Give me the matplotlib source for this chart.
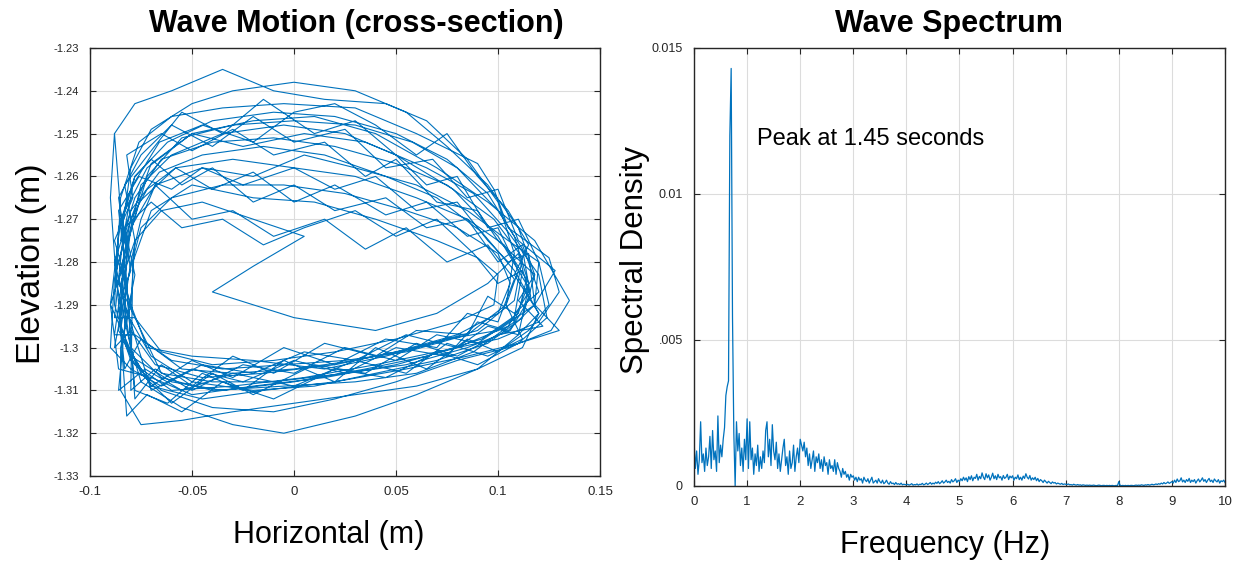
import numpy as np
import matplotlib
matplotlib.use("Agg")
import matplotlib.pyplot as plt

plt.rcParams['font.family'] = ['Liberation Sans', 'DejaVu Sans']

# ---------------- data: orbit (cross-section) ----------------
horizontal_m = [
    -0.085, -0.080, -0.070, -0.050, -0.030, 0.000, 0.030, 0.055, 0.075, 0.095, 0.110, 0.118, 0.112, 0.095, 0.070, 0.040, 0.010, -0.020, -0.050, -0.070, -0.082,
    -0.088, -0.078, -0.065, -0.040, -0.010, 0.020, 0.050, 0.075, 0.098, 0.112, 0.108, 0.090, 0.060, 0.030, 0.000, -0.030, -0.055, -0.075,
    -0.083, -0.086, -0.080, -0.084, -0.078, -0.070, -0.055, -0.040, -0.020, 0.000, 0.020, 0.045, 0.065, 0.085, 0.100, 0.112, 0.120, 0.108, 0.095, 0.085, 0.060, 0.040, 0.015, -0.010, -0.030, -0.050, -0.065, -0.078,
    -0.082, -0.075, -0.060, -0.035, -0.005, 0.025, 0.055, 0.080, 0.100, 0.106, 0.100, 0.080, 0.050, 0.020, -0.015, -0.045, -0.068, -0.080,
    -0.088, -0.082, -0.088, -0.079, -0.082, -0.065, -0.050, -0.030, -0.010, 0.015, 0.035, 0.050, 0.070, 0.090, 0.100, 0.118, 0.110, 0.122, 0.100, 0.080, 0.060, 0.035, 0.010, -0.020, -0.040, -0.060, -0.075,
    -0.090, -0.085, -0.072, -0.050, -0.020, 0.010, 0.040, 0.070, 0.095, 0.118, 0.135, 0.126, 0.105, 0.080, 0.050, 0.020, -0.010, -0.040, -0.065, -0.080,
    -0.085, -0.080, -0.075, -0.068, -0.050, -0.030, -0.010, 0.015, 0.035, 0.055, 0.075, 0.095, 0.108, 0.100, 0.085, 0.070, 0.045, 0.020, -0.005, -0.030, -0.050, -0.070,
    -0.086, -0.083, -0.075, -0.060, -0.035, -0.005, 0.025, 0.050, 0.078, 0.100, 0.115, 0.110, 0.090, 0.060, 0.030, -0.005, -0.030, -0.055, -0.075,
    -0.080, -0.085, -0.078, -0.083, -0.070, -0.055, -0.035, -0.015, 0.010, 0.030, 0.050, 0.065, 0.080, 0.095, 0.110, 0.120, 0.125, 0.115, 0.100, 0.085, 0.065, 0.040, 0.020, -0.005, -0.025, -0.045, -0.062, -0.078,
    -0.088, -0.078, -0.060, -0.035, -0.010, 0.015, 0.045, 0.065, 0.085, 0.100, 0.108, 0.104, 0.085, 0.055, 0.025, -0.005, -0.035, -0.060, -0.078,
    -0.088, -0.083, -0.086, -0.076, -0.060, -0.045, -0.025, 0.000, 0.020, 0.040, 0.060, 0.080, 0.095, 0.105, 0.115, 0.118, 0.105, 0.090, 0.075, 0.050, 0.025, 0.000, -0.025, -0.050, -0.070,
    -0.084, -0.080, -0.068, -0.045, -0.020, 0.005, 0.030, 0.060, 0.085, 0.105, 0.120, 0.118, 0.100, 0.075, 0.045, 0.015, -0.020, -0.050, -0.072,
    -0.080, -0.078, -0.065, -0.045, -0.020, 0.005, -0.020, -0.040, 0.000, 0.040, 0.070, 0.095, 0.110, 0.115, 0.105, 0.080, 0.050, 0.015, -0.020, -0.050, -0.070,
    -0.086, -0.090, -0.082, -0.086, -0.075, -0.060, -0.040, -0.020, 0.000, 0.025, 0.045, 0.068, 0.085, 0.100, 0.110, 0.128, 0.118, 0.130, 0.110, 0.090, 0.070, 0.045, 0.020, -0.010, -0.035, -0.055, -0.072, -0.082,
    -0.087, -0.085, -0.076, -0.060, -0.035, -0.005, 0.030, 0.060, 0.090, 0.098, 0.105, 0.125, 0.130, 0.120, 0.100, 0.070, 0.040, 0.005, -0.030, -0.060, -0.078,
    -0.084, -0.078, -0.083, -0.070, -0.055, -0.035, -0.015, 0.005, 0.030, 0.050, 0.070, 0.088, 0.100, 0.112, 0.108, 0.090, 0.070, 0.050, 0.025, 0.000, -0.025, -0.050, -0.068, -0.080,
    -0.079, -0.070, -0.050, -0.020, 0.010, 0.040, 0.070, 0.090, 0.100, 0.098, 0.080, 0.050, 0.020, -0.010, -0.040, -0.065, -0.078,
    -0.088, -0.084, -0.079, -0.066, -0.045, -0.020, 0.000, 0.020, 0.040, 0.060, 0.075, 0.090, 0.105, 0.115, 0.108, 0.120, 0.110, 0.095, 0.080, 0.055, 0.030, 0.005, -0.020, -0.045, -0.065, -0.080,
    -0.090, -0.088, -0.080, -0.066, -0.045, -0.015, 0.015, 0.045, 0.070, 0.092, 0.108, 0.120, 0.112, 0.090, 0.060, 0.030, 0.000, -0.030, -0.055, -0.075, -0.085,
    -0.085, -0.080, -0.086, -0.080, -0.072, -0.058, -0.040, -0.020, 0.000, 0.020, 0.045, 0.065, 0.085, 0.100, 0.110, 0.104, 0.112, 0.095, 0.075, 0.055, 0.030, 0.000, -0.030, -0.055, -0.073, -0.086,
    -0.083, -0.082, -0.072, -0.055, -0.030, 0.000, 0.030, 0.058, 0.080, 0.100, 0.112, 0.116, 0.106, 0.085, 0.055, 0.025, -0.010, -0.040, -0.065,
    -0.086, -0.080, -0.070, -0.050, -0.025, 0.005, 0.035, 0.065, 0.088, 0.105, 0.120, 0.124, 0.110, 0.085, 0.055, 0.020, -0.015, -0.045, -0.070,
    -0.085, -0.084, -0.076, -0.058, -0.030, 0.000, 0.030, 0.060, 0.085, 0.103, 0.114, 0.110, 0.092, 0.065, 0.035, 0.000, -0.035, -0.060, -0.080,
    -0.088, -0.086, -0.078, -0.062, -0.040, -0.010, 0.020, 0.050, 0.075, 0.095, 0.108, 0.115, 0.108, 0.088, 0.060, 0.030, -0.005, -0.040, -0.065, -0.080, -0.087, -0.090, -0.088,
]
elevation_m = [
    -1.275, -1.258, -1.249, -1.243, -1.240, -1.238, -1.240, -1.245, -1.253, -1.262, -1.272, -1.283, -1.293, -1.299, -1.303, -1.306, -1.309, -1.310, -1.308, -1.302, -1.292,
    -1.280, -1.265, -1.256, -1.252, -1.251, -1.253, -1.257, -1.262, -1.270, -1.279, -1.289, -1.296, -1.300, -1.303, -1.305, -1.306, -1.305, -1.298,
    -1.305, -1.290, -1.282, -1.270, -1.260, -1.256, -1.262, -1.258, -1.266, -1.262, -1.268, -1.265, -1.272, -1.270, -1.280, -1.276, -1.287, -1.292, -1.288, -1.297, -1.296, -1.302, -1.299, -1.306, -1.302, -1.309, -1.304, -1.312,
    -1.285, -1.272, -1.265, -1.262, -1.262, -1.264, -1.268, -1.272, -1.278, -1.285, -1.292, -1.297, -1.301, -1.304, -1.306, -1.307, -1.304, -1.296,
    -1.300, -1.285, -1.275, -1.265, -1.255, -1.250, -1.254, -1.249, -1.255, -1.252, -1.260, -1.256, -1.266, -1.268, -1.275, -1.283, -1.289, -1.295, -1.297, -1.302, -1.299, -1.306, -1.304, -1.311, -1.306, -1.313, -1.306,
    -1.290, -1.270, -1.258, -1.250, -1.247, -1.246, -1.250, -1.258, -1.266, -1.275, -1.289, -1.296, -1.300, -1.303, -1.308, -1.312, -1.315, -1.314, -1.310, -1.303,
    -1.296, -1.280, -1.270, -1.262, -1.270, -1.268, -1.274, -1.270, -1.277, -1.272, -1.280, -1.276, -1.284, -1.294, -1.292, -1.300, -1.298, -1.304, -1.300, -1.307, -1.303, -1.309,
    -1.296, -1.278, -1.262, -1.255, -1.250, -1.248, -1.250, -1.255, -1.263, -1.274, -1.286, -1.297, -1.305, -1.311, -1.316, -1.320, -1.318, -1.314, -1.308,
    -1.300, -1.285, -1.275, -1.262, -1.254, -1.245, -1.250, -1.242, -1.250, -1.247, -1.255, -1.262, -1.260, -1.272, -1.270, -1.280, -1.290, -1.296, -1.301, -1.298, -1.305, -1.300, -1.308, -1.303, -1.310, -1.306, -1.313, -1.310,
    -1.250, -1.243, -1.240, -1.235, -1.240, -1.242, -1.243, -1.247, -1.256, -1.266, -1.278, -1.290, -1.297, -1.301, -1.303, -1.304, -1.305, -1.303, -1.297,
    -1.297, -1.280, -1.268, -1.260, -1.263, -1.258, -1.262, -1.258, -1.263, -1.260, -1.268, -1.266, -1.275, -1.280, -1.278, -1.290, -1.296, -1.294, -1.302, -1.300, -1.306, -1.303, -1.308, -1.305, -1.310,
    -1.288, -1.272, -1.262, -1.258, -1.260, -1.255, -1.258, -1.262, -1.268, -1.275, -1.280, -1.290, -1.296, -1.298, -1.302, -1.305, -1.303, -1.302, -1.300,
    -1.290, -1.275, -1.268, -1.266, -1.270, -1.274, -1.281, -1.287, -1.293, -1.296, -1.292, -1.285, -1.278, -1.287, -1.295, -1.300, -1.304, -1.307, -1.309, -1.311, -1.307,
    -1.305, -1.290, -1.278, -1.265, -1.255, -1.248, -1.253, -1.246, -1.252, -1.249, -1.258, -1.256, -1.265, -1.263, -1.275, -1.282, -1.290, -1.296, -1.299, -1.304, -1.301, -1.307, -1.305, -1.312, -1.308, -1.315, -1.311, -1.316,
    -1.283, -1.265, -1.252, -1.246, -1.244, -1.243, -1.244, -1.250, -1.257, -1.263, -1.272, -1.279, -1.287, -1.294, -1.298, -1.301, -1.304, -1.307, -1.309, -1.310, -1.304,
    -1.298, -1.283, -1.272, -1.266, -1.272, -1.270, -1.276, -1.272, -1.268, -1.274, -1.270, -1.278, -1.285, -1.282, -1.293, -1.299, -1.297, -1.303, -1.300, -1.306, -1.304, -1.310, -1.305, -1.310,
    -1.280, -1.268, -1.262, -1.265, -1.266, -1.270, -1.275, -1.279, -1.283, -1.290, -1.294, -1.298, -1.301, -1.303, -1.304, -1.301, -1.293,
    -1.293, -1.275, -1.262, -1.252, -1.248, -1.252, -1.245, -1.243, -1.248, -1.255, -1.250, -1.260, -1.268, -1.276, -1.283, -1.292, -1.297, -1.295, -1.300, -1.297, -1.303, -1.301, -1.306, -1.304, -1.309, -1.305,
    -1.300, -1.284, -1.268, -1.259, -1.255, -1.253, -1.255, -1.260, -1.265, -1.273, -1.282, -1.292, -1.300, -1.305, -1.309, -1.311, -1.313, -1.315, -1.317, -1.318, -1.310,
    -1.300, -1.290, -1.280, -1.270, -1.263, -1.258, -1.263, -1.259, -1.266, -1.262, -1.269, -1.266, -1.274, -1.272, -1.282, -1.290, -1.298, -1.302, -1.299, -1.306, -1.303, -1.309, -1.306, -1.310, -1.305, -1.310,
    -1.295, -1.276, -1.260, -1.251, -1.248, -1.247, -1.248, -1.252, -1.258, -1.268, -1.277, -1.288, -1.296, -1.300, -1.304, -1.306, -1.308, -1.308, -1.306,
    -1.285, -1.270, -1.257, -1.250, -1.253, -1.250, -1.252, -1.258, -1.264, -1.273, -1.283, -1.293, -1.299, -1.302, -1.305, -1.308, -1.310, -1.312, -1.309,
    -1.297, -1.280, -1.266, -1.258, -1.256, -1.258, -1.260, -1.265, -1.270, -1.276, -1.284, -1.292, -1.298, -1.302, -1.305, -1.308, -1.310, -1.308, -1.302,
    -1.290, -1.272, -1.260, -1.252, -1.247, -1.245, -1.246, -1.250, -1.256, -1.264, -1.274, -1.285, -1.294, -1.301, -1.306, -1.308, -1.309, -1.310, -1.307, -1.300, -1.285, -1.265, -1.250,
]

orbit_xticks = [-0.1, -0.05, 0, 0.05, 0.1, 0.15]
orbit_xlabels = ["-0.1", "-0.05", "0", "0.05", "0.1", "0.15"]
orbit_yticks = [-1.33, -1.32, -1.31, -1.30, -1.29, -1.28, -1.27, -1.26, -1.25, -1.24, -1.23]
orbit_ylabels = ["-1.33", "-1.32", "-1.31", "-1.3", "-1.29", "-1.28", "-1.27", "-1.26", "-1.25", "-1.24", "-1.23"]

# ---------------- data: spectrum ----------------
freq_start_hz = 0.0
freq_step_hz = 0.025
# spectral density values in units of 1e-3 (one row per Hz)
density_milli = [
    1.6, 0.6, 1.2, 0.4, 0.9, 2.2, 0.8, 1.1, 0.5, 1.3, 0.7, 1.0, 1.7, 0.6, 1.9, 0.9, 1.2, 0.5, 2.4, 0.8, 1.4, 1.0, 1.6, 2.0, 3.1, 3.4, 3.6, 12.0, 14.3, 5.8, 1.8, 0.0, 2.2, 1.2, 1.8, 0.7, 1.3, 0.5, 1.6, 0.9,
    2.3, 0.6, 2.2, 0.9, 1.3, 0.4, 1.1, 0.7, 1.4, 0.5, 1.0, 0.6, 1.2, 0.8, 1.9, 2.2, 1.0, 1.6, 0.7, 2.1, 1.2, 0.9, 1.5, 0.6, 1.1, 0.5, 0.9, 1.3, 1.6, 0.7, 1.0, 0.4, 1.2, 0.6, 0.8, 1.4, 0.5, 1.0, 1.3, 0.8,
    1.6, 1.4, 1.2, 1.5, 1.0, 1.3, 0.7, 1.1, 0.6, 0.9, 1.2, 0.5, 1.0, 0.8, 1.1, 0.6, 0.9, 0.5, 1.0, 0.7, 0.8, 0.4, 0.9, 0.6, 0.7, 0.5, 0.9, 0.4, 0.8, 0.6, 0.5, 0.3, 0.6, 0.4, 0.5, 0.3, 0.4, 0.2, 0.4, 0.3,
    0.35, 0.2, 0.3, 0.15, 0.3, 0.2, 0.25, 0.1, 0.3, 0.2, 0.15, 0.25, 0.1, 0.2, 0.3, 0.1, 0.15, 0.2, 0.1, 0.25, 0.15, 0.1, 0.2, 0.08, 0.12, 0.2, 0.1, 0.06, 0.15, 0.08, 0.1, 0.05, 0.12, 0.06, 0.08, 0.05, 0.1, 0.04, 0.06, 0.05,
    0.04, 0.06, 0.03, 0.05, 0.08, 0.03, 0.05, 0.04, 0.07, 0.03, 0.06, 0.05, 0.09, 0.04, 0.06, 0.1, 0.05, 0.08, 0.12, 0.06, 0.1, 0.07, 0.13, 0.09, 0.15, 0.08, 0.12, 0.18, 0.1, 0.14, 0.2, 0.12, 0.16, 0.1, 0.22, 0.14, 0.18, 0.25, 0.12, 0.2,
    0.15, 0.25, 0.18, 0.3, 0.2, 0.28, 0.15, 0.32, 0.22, 0.35, 0.18, 0.3, 0.26, 0.4, 0.2, 0.33, 0.25, 0.45, 0.3, 0.22, 0.42, 0.28, 0.38, 0.2, 0.3, 0.44, 0.25, 0.35, 0.22, 0.4, 0.28, 0.32, 0.2, 0.36, 0.26, 0.3, 0.4, 0.22, 0.34, 0.28,
    0.35, 0.2, 0.3, 0.25, 0.38, 0.22, 0.3, 0.2, 0.34, 0.26, 0.42, 0.3, 0.24, 0.36, 0.2, 0.28, 0.22, 0.3, 0.18, 0.26, 0.15, 0.22, 0.18, 0.12, 0.2, 0.15, 0.1, 0.16, 0.12, 0.08, 0.14, 0.1, 0.12, 0.07, 0.1, 0.08, 0.06, 0.09, 0.05, 0.07,
    0.06, 0.05, 0.07, 0.04, 0.05, 0.03, 0.06, 0.04, 0.03, 0.05, 0.03, 0.04, 0.02, 0.04, 0.03, 0.02, 0.03, 0.02, 0.03, 0.02, 0.02, 0.03, 0.02, 0.01, 0.02, 0.03, 0.02, 0.01, 0.02, 0.02, 0.01, 0.02, 0.01, 0.02, 0.01, 0.02, 0.01, 0.01, 0.02, 0.01,
    0.15, 0.02, 0.01, 0.02, 0.01, 0.02, 0.01, 0.02, 0.01, 0.02, 0.02, 0.01, 0.02, 0.03, 0.02, 0.03, 0.02, 0.04, 0.03, 0.02, 0.04, 0.03, 0.05, 0.03, 0.04, 0.06, 0.04, 0.05, 0.07, 0.05, 0.08, 0.06, 0.1, 0.07, 0.12, 0.08, 0.1, 0.14, 0.09, 0.12,
    0.15, 0.1, 0.2, 0.12, 0.24, 0.15, 0.18, 0.28, 0.14, 0.2, 0.12, 0.22, 0.16, 0.26, 0.12, 0.2, 0.15, 0.22, 0.1, 0.18, 0.24, 0.14, 0.2, 0.28, 0.16, 0.22, 0.12, 0.2, 0.26, 0.15, 0.2, 0.12, 0.24, 0.18, 0.14, 0.22, 0.1, 0.18, 0.15, 0.2, 0.12,
]
spec_xticks = [0, 1, 2, 3, 4, 5, 6, 7, 8, 9, 10]
spec_yticks = [0, 0.005, 0.01, 0.015]
spec_ylabels = ["0", ".005", "0.01", "0.015"]
peak_note = "Peak at 1.45 seconds"

# ---------------- drawing ----------------
line_color = "#0072BD"
axis_color = "#262626"
grid_color = "#dcdcdc"
W, H = 1239.0, 562.0

fig = plt.figure(figsize=(12.39, 5.62), dpi=100)
ax1 = fig.add_axes([90 / W, 1 - 476 / H, 510 / W, 428 / H])
ax2 = fig.add_axes([694 / W, 1 - 486 / H, 531 / W, 438 / H])


def style(ax, ysize):
    ax.grid(True, color=grid_color, linewidth=0.8)
    ax.set_axisbelow(True)
    for s in ax.spines.values():
        s.set_color(axis_color)
        s.set_linewidth(1.0)
    ax.tick_params(direction="in", top=True, right=True, length=4,
                   width=0.8, colors=axis_color)
    ax.tick_params(axis="x", labelsize=9.5, pad=7)
    ax.tick_params(axis="y", labelsize=ysize, pad=8)


def place_labels(ax, xl, xpos, xsize, yl, ypos, ysize):
    ax.set_xlabel(xl, fontsize=xsize)
    ax.xaxis.set_label_coords(xpos[0] / W, 1 - xpos[1] / H, transform=fig.transFigure)
    ax.xaxis.label.set_va("baseline")
    ax.set_ylabel(yl, fontsize=ysize)
    ax.yaxis.set_label_coords(ypos[0] / W, 1 - ypos[1] / H, transform=fig.transFigure)
    ax.yaxis.label.set_va("baseline")


ax1.plot(horizontal_m, elevation_m, color=line_color, linewidth=0.8)
ax1.set_xlim(-0.1, 0.15)
ax1.set_ylim(-1.33, -1.23)
ax1.set_xticks(orbit_xticks)
ax1.set_xticklabels(orbit_xlabels)
ax1.set_yticks(orbit_yticks)
ax1.set_yticklabels(orbit_ylabels)
style(ax1, 8)
place_labels(ax1, "Horizontal (m)", (329, 543), 22, "Elevation (m)", (40, 264), 24.5)
fig.text(356 / W, 1 - 32 / H, "Wave Motion (cross-section)", fontsize=22,
         fontweight="bold", ha="center", va="baseline")

freqs = freq_start_hz + freq_step_hz * np.arange(len(density_milli))
ax2.plot(freqs, np.array(density_milli) / 1000.0, color=line_color, linewidth=0.9)
ax2.set_xlim(0, 10)
ax2.set_ylim(0, 0.015)
ax2.set_xticks(spec_xticks)
ax2.set_yticks(spec_yticks)
ax2.set_yticklabels(spec_ylabels)
style(ax2, 9)
place_labels(ax2, "Frequency (Hz)", (945, 553), 22, "Spectral Density", (643, 260), 22.5)
fig.text(949 / W, 1 - 32 / H, "Wave Spectrum", fontsize=22,
         fontweight="bold", ha="center", va="baseline")
ax2.text(1.19, 0.01168, peak_note, fontsize=17, va="baseline", ha="left", color="black")

fig.savefig("out.png", dpi=100)
